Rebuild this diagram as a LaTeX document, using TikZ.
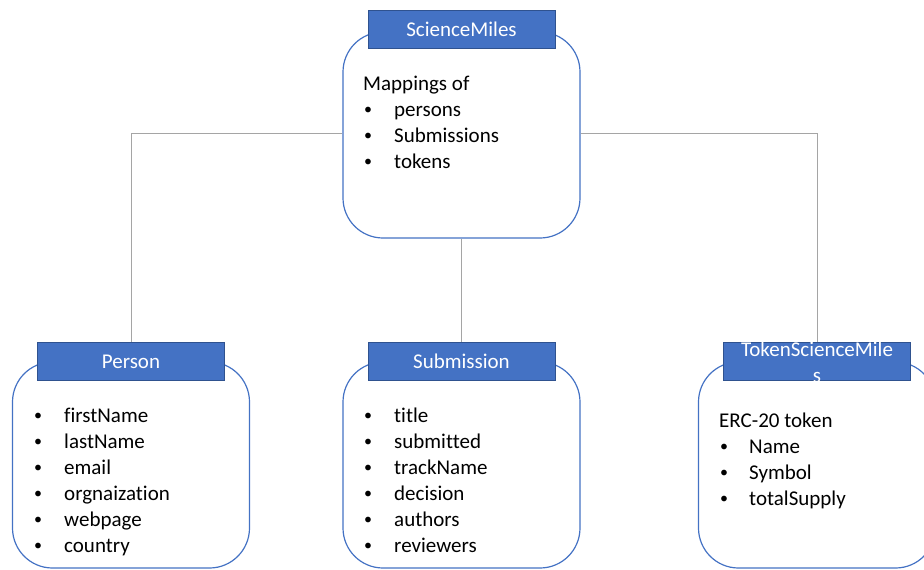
\documentclass[tikz,border=0pt]{standalone}
\usepackage{fontspec}
\setmainfont{Carlito}[Ligatures=NoCommon]
\definecolor{boxblue}{HTML}{4472C4}
\definecolor{hdrblue}{HTML}{4472C4}
\definecolor{hdrborder}{HTML}{2F528F}
\definecolor{conngray}{HTML}{A5A5A5}
\begin{document}
\begin{tikzpicture}[x=1pt,y=-1pt,
  box/.style={draw=boxblue, line width=1.2pt, rounded corners=40pt, fill=white,
    minimum width=237pt, minimum height=206pt, inner sep=0pt},
  hdr/.style={draw=hdrborder, fill=hdrblue, line width=0.8pt, minimum width=187pt,
    minimum height=38pt, inner sep=0pt},
  hdrtxt/.style={anchor=base, inner sep=0pt, text=white, font=\fontsize{21}{26}\selectfont},
  conn/.style={draw=conngray, line width=0.9pt},
  txt/.style={anchor=base west, inner sep=0pt, font=\fontsize{21}{26}\selectfont},
  bul/.style={anchor=base west, inner sep=0pt, font=\fontsize{16}{16}\selectfont},
]
\useasboundingbox (0,0) rectangle (924,570);

% boxes
\node[box] (sm) at (461.5,135) {};
\node[box] (pb) at (131,465) {};
\node[box] (sb) at (461.5,465) {};
\node[box] (tb) at (817,465) {};

% headers
\node[hdr] (smh) at (461.5,29) {};
\node[hdr] (ph) at (131,361.5) {};
\node[hdr] (sh) at (461.5,361.5) {};
\node[hdr] (th) at (817,361.5) {};
\node[hdrtxt] (smh1) at (461.5,36) {ScienceMiles};
\node[hdrtxt] (ph1) at (131,368) {Person};
\node[hdrtxt] (sh1) at (461.5,368) {Submission};
\node[hdrtxt] (th1) at (817,356) {TokenScienceMile};
\node[hdrtxt] (th2) at (817,382) {s};

% connectors
\draw[conn] (sm.west |- 0,133) -| (ph.north);
\draw[conn] (sm.east |- 0,133) -| (th.north);
\draw[conn] (sm.south) -- (sh.north);

% ScienceMiles content
\node[txt] (m0) at (363,90) {Mappings of};
\foreach \t [count=\i] in {persons,Submissions,tokens} {
  \node[bul] (mb\i) at (364,{90+26*\i-1.5}) {•};
  \node[txt] (mt\i) at (394,{90+26*\i}) {\t};
}

% Person content
\foreach \t [count=\i] in {firstName,lastName,email,orgnaization,webpage,country} {
  \node[bul] (pbul\i) at (34,{396+26*\i-1.5}) {•};
  \node[txt] (pt\i) at (64,{396+26*\i}) {\t};
}

% Submission content
\foreach \t [count=\i] in {title,submitted,trackName,decision,authors,reviewers} {
  \node[bul] (sbul\i) at (364,{396+26*\i-1.5}) {•};
  \node[txt] (st\i) at (394,{396+26*\i}) {\t};
}

% Token content
\node[txt] (t0) at (719,427) {ERC-20 token};
\foreach \t [count=\i] in {Name,Symbol,totalSupply} {
  \node[bul] (tbul\i) at (720,{427+26*\i-1.5}) {•};
  \node[txt] (tt\i) at (749,{427+26*\i}) {\t};
}
\end{tikzpicture}
\end{document}
